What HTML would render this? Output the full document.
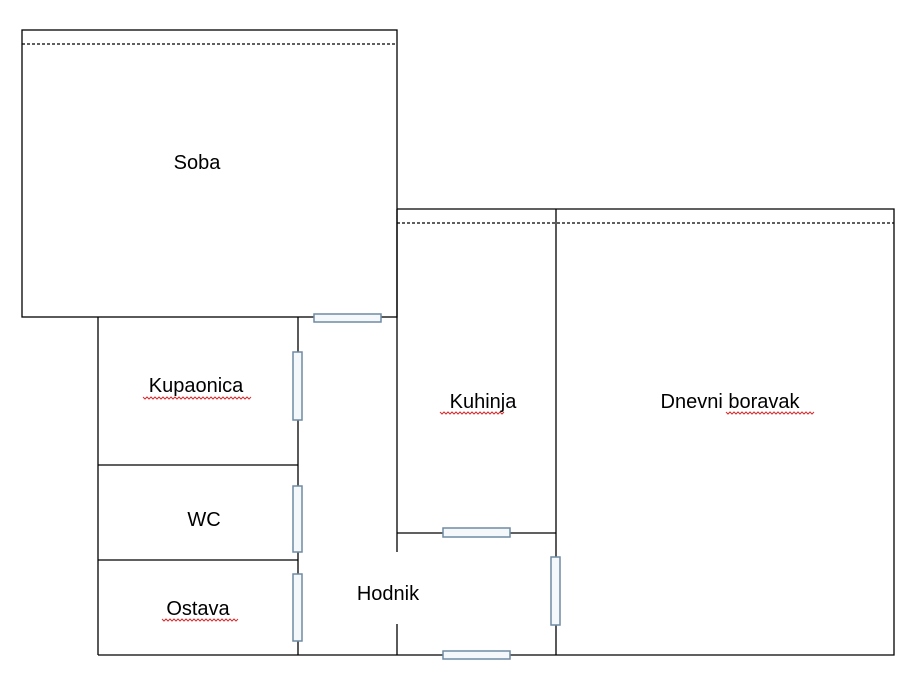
<!DOCTYPE html>
<html><head><style>
html,body{margin:0;padding:0;background:#fff;width:920px;height:688px;overflow:hidden}
svg text{font-family:"Liberation Sans",sans-serif;font-size:20px;fill:#000}
</style></head><body>
<svg width="920" height="688" viewBox="0 0 920 688" xmlns="http://www.w3.org/2000/svg">
<g stroke="#000" stroke-width="1.3" fill="none">
<rect x="22" y="30" width="375" height="287"/>
<line x1="22" y1="44" x2="397" y2="44" stroke-dasharray="3,2"/>
<polyline points="397,209 894,209 894,655 397,655"/>
<line x1="397" y1="223" x2="894" y2="223" stroke-dasharray="3,2"/>
<line x1="556" y1="209" x2="556" y2="655"/>
<line x1="397" y1="533" x2="556" y2="533"/>
<line x1="397" y1="209" x2="397" y2="552"/>
<line x1="98" y1="317" x2="98" y2="655"/>
<line x1="298" y1="317" x2="298" y2="655"/>
<line x1="98" y1="655" x2="397" y2="655"/>
<line x1="98" y1="465" x2="298" y2="465"/>
<line x1="98" y1="560" x2="298" y2="560"/>
<line x1="397" y1="624" x2="397" y2="655"/>
</g>
<g stroke="#6f8aa3" stroke-width="1.5" fill="#f4f8fb">
<rect x="314" y="314" width="67" height="8"/>
<rect x="293" y="352" width="9" height="68"/>
<rect x="293" y="486" width="9" height="66"/>
<rect x="293" y="574" width="9" height="67"/>
<rect x="443" y="528" width="67" height="9"/>
<rect x="551" y="557" width="9" height="68"/>
<rect x="443" y="651" width="67" height="8"/>
</g>
<g stroke="#d03030" stroke-width="1" fill="none">
<path d="M143 397 l2 2 l2 -2 l2 2 l2 -2 l2 2 l2 -2 l2 2 l2 -2 l2 2 l2 -2 l2 2 l2 -2 l2 2 l2 -2 l2 2 l2 -2 l2 2 l2 -2 l2 2 l2 -2 l2 2 l2 -2 l2 2 l2 -2 l2 2 l2 -2 l2 2 l2 -2 l2 2 l2 -2 l2 2 l2 -2 l2 2 l2 -2 l2 2 l2 -2 l2 2 l2 -2 l2 2 l2 -2 l2 2 l2 -2 l2 2 l2 -2 l2 2 l2 -2 l2 2 l2 -2 l2 2 l2 -2 l2 2 l2 -2 l2 2 l2 -2"/>
<path d="M162 619 l2 2 l2 -2 l2 2 l2 -2 l2 2 l2 -2 l2 2 l2 -2 l2 2 l2 -2 l2 2 l2 -2 l2 2 l2 -2 l2 2 l2 -2 l2 2 l2 -2 l2 2 l2 -2 l2 2 l2 -2 l2 2 l2 -2 l2 2 l2 -2 l2 2 l2 -2 l2 2 l2 -2 l2 2 l2 -2 l2 2 l2 -2 l2 2 l2 -2 l2 2 l2 -2"/>
<path d="M440 412 l2 2 l2 -2 l2 2 l2 -2 l2 2 l2 -2 l2 2 l2 -2 l2 2 l2 -2 l2 2 l2 -2 l2 2 l2 -2 l2 2 l2 -2 l2 2 l2 -2 l2 2 l2 -2 l2 2 l2 -2 l2 2 l2 -2 l2 2 l2 -2 l2 2 l2 -2 l2 2 l2 -2 l2 2 l2 -2"/>
<path d="M726 412 l2 2 l2 -2 l2 2 l2 -2 l2 2 l2 -2 l2 2 l2 -2 l2 2 l2 -2 l2 2 l2 -2 l2 2 l2 -2 l2 2 l2 -2 l2 2 l2 -2 l2 2 l2 -2 l2 2 l2 -2 l2 2 l2 -2 l2 2 l2 -2 l2 2 l2 -2 l2 2 l2 -2 l2 2 l2 -2 l2 2 l2 -2 l2 2 l2 -2 l2 2 l2 -2 l2 2 l2 -2 l2 2 l2 -2 l2 2 l2 -2"/>
</g>
<text x="197" y="169" text-anchor="middle">Soba</text>
<text x="196" y="392" text-anchor="middle">Kupaonica</text>
<text x="204" y="526" text-anchor="middle">WC</text>
<text x="198" y="615" text-anchor="middle">Ostava</text>
<text x="388" y="600" text-anchor="middle">Hodnik</text>
<text x="483" y="408" text-anchor="middle">Kuhinja</text>
<text x="730" y="408" text-anchor="middle">Dnevni boravak</text>
</svg>
</body></html>
